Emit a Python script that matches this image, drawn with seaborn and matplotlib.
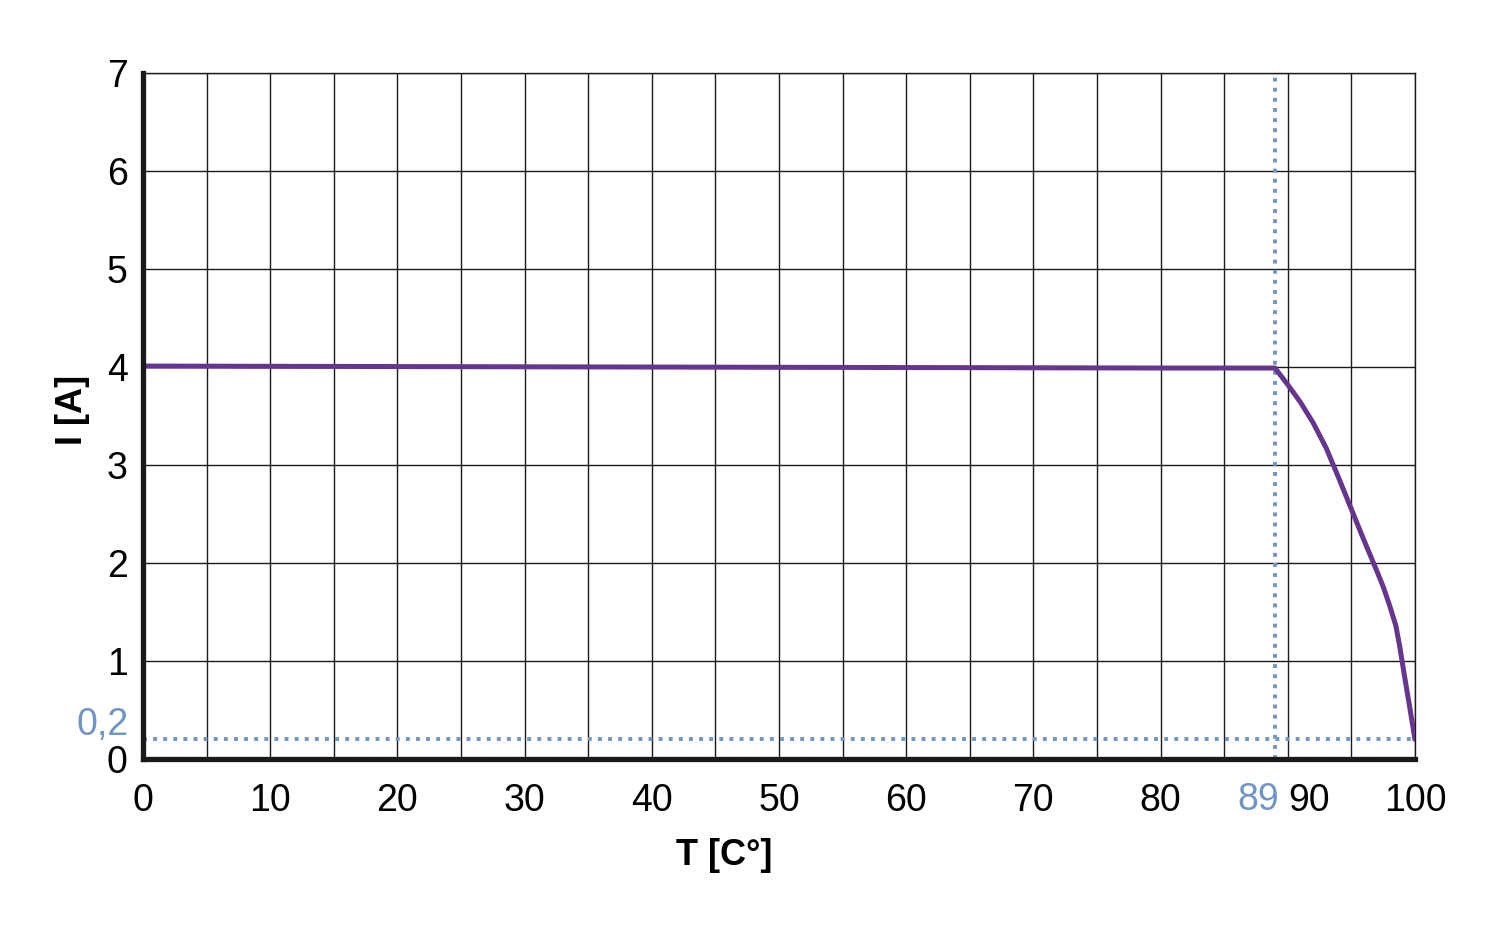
import matplotlib
matplotlib.use('Agg')
import matplotlib.pyplot as plt
import matplotlib.transforms as mtransforms
import seaborn as sns
import pandas as pd

# Données
temp = [0, 20, 40, 60, 80, 89, 90, 91, 92, 93, 94, 95, 96, 97, 97.5,
        98, 98.5, 98.8, 99.2, 99.6, 100]
courant = [4.01, 4.005, 4.0, 3.995, 3.99, 3.99, 3.82, 3.64, 3.43, 3.18, 2.87,
           2.55, 2.23, 1.92, 1.76, 1.57, 1.36, 1.15, 0.83, 0.52, 0.2]
t_seuil = 89
i_min = 0.2
xticks = list(range(0, 101, 10))
yticks = list(range(0, 8))

df = pd.DataFrame({'T': temp, 'I': courant})

sns.set_theme(style='white')
plt.rcParams['font.family'] = ['Liberation Sans', 'DejaVu Sans']

fig = plt.figure(figsize=(15, 9.32), dpi=100)
ax = fig.add_axes([0.0953, 0.1856, 0.848, 0.736])

bleu = '#7096c6'
violet = '#66368f'

ax.set_xlim(0, 100)
ax.set_ylim(0, 7)
ax.set_xticks(xticks)
ax.set_xticks(range(5, 100, 10), minor=True)
ax.set_yticks(yticks)
ax.grid(which='both', color='#1a1a1a', linewidth=1.0)
ax.set_axisbelow(True)

# lignes pointillées du seuil
ax.axvline(t_seuil, color=bleu, linestyle=(0, (1, 1.6)), linewidth=2.8, zorder=2)
ax.axhline(i_min, color=bleu, linestyle=(0, (1, 1.6)), linewidth=2.8, zorder=2)

sns.lineplot(data=df, x='T', y='I', color=violet, linewidth=3.6, ax=ax, zorder=3)

ax.tick_params(axis='both', which='both', length=0, labelsize=27, colors='black')
ax.tick_params(axis='x', pad=17)
ax.tick_params(axis='y', pad=11)
# le 90 est décalé à droite pour laisser la place au 89
ax.get_xticklabels()[9].set_ha('left')

for side in ['left', 'bottom']:
    ax.spines[side].set_color('#1a1a1a')
    ax.spines[side].set_linewidth(3.8)
    ax.spines[side].set_zorder(4)
for side in ['top', 'right']:
    ax.spines[side].set_color('#1a1a1a')
    ax.spines[side].set_linewidth(1.0)

# étiquettes bleues 89 et 0,2
tx = mtransforms.blended_transform_factory(ax.transData, ax.transAxes)
ax.text(t_seuil + 0.3, -0.0335, str(t_seuil), transform=tx, color=bleu, fontsize=27,
        ha='right', va='top')
ty = mtransforms.blended_transform_factory(ax.transAxes, ax.transData)
ax.text(-0.0115, i_min + 0.15, '0,2', transform=ty, color=bleu, fontsize=27,
        ha='right', va='center')

ax.set_xlabel('T [C°]', fontsize=26, fontweight='bold', color='black')
ax.set_ylabel('I [A]', fontsize=26, fontweight='bold', color='black')
ax.xaxis.set_label_coords(0.457, -0.115)
ax.yaxis.set_label_coords(-0.0417, 0.509)

fig.savefig('out.png', dpi=100, facecolor='white')
